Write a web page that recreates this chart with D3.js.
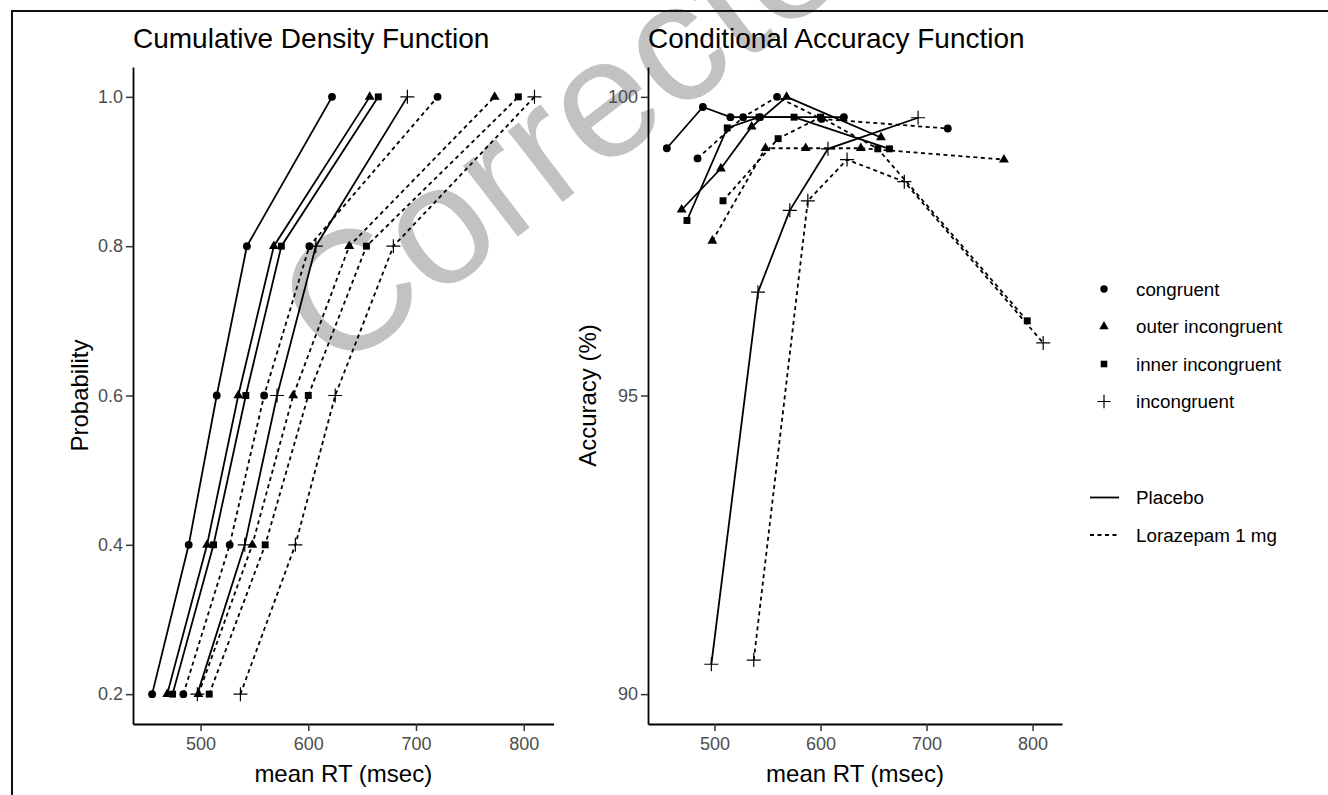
<!DOCTYPE html>
<html>
<head>
<meta charset="utf-8">
<script src="https://cdn.jsdelivr.net/npm/d3@7"></script>
<style>
body { margin: 0; background: #fff; }
svg { font-family: "Liberation Sans", Arial, Helvetica, sans-serif; }
.tick text { fill: #4d4d4d; }
</style>
</head>
<body>
<svg id="chart" width="1328" height="795"></svg>
<script>
// Delta plots for the flanker task: CDF (left) and CAF (right).

var conditions = ["congruent", "outer incongruent", "inner incongruent", "incongruent"];
var drugs = ["Placebo", "Lorazepam 1 mg"];
var probs = [0.2, 0.4, 0.6, 0.8, 1.0];

// mean RT (msec) per quantile, one row per condition
var rtPlacebo = [
	[455, 489, 515, 543, 622],
	[469, 506, 535, 568, 657],
	[474, 512, 542, 575, 665],
	[497, 541, 571, 607, 692]
];
var rtLorazepam = [
	[484, 527, 559, 601, 720],
	[498, 548, 586, 638, 773],
	[508, 560, 600, 654, 795],
	[537, 588, 625, 679, 810]
];

// accuracy (%) per quantile bin
var accPlacebo = [
	[99.14, 99.83, 99.66, 99.66, 99.66],
	[98.11, 98.80, 99.50, 100.0, 99.32],
	[97.93, 99.48, 99.66, 99.66, 99.13],
	[90.50, 96.73, 98.10, 99.13, 99.65]
];
var accLorazepam = [
	[98.97, 99.66, 100.0, 99.63, 99.47],
	[97.59, 99.14, 99.14, 99.14, 98.95],
	[98.26, 99.30, 99.66, 99.13, 96.25],
	[90.57, 98.26, 98.95, 98.58, 95.88]
];

var xTicks = [500, 600, 700, 800];
var cdfTicks = [0.2, 0.4, 0.6, 0.8, 1.0];
var cafTicks = [90, 95, 100];
var cafLimits = [90, 100];

var svg = d3.select("#chart");

// build one long table of series
var series = [];
drugs.forEach(function(drug, j) {
	var rt = j == 0 ? rtPlacebo : rtLorazepam,
		acc = j == 0 ? accPlacebo : accLorazepam;
	conditions.forEach(function(cond, i) {
		series.push({
			cond: i, drug: j,
			values: probs.map(function(p, k) {
				return {p: p, rt: rt[i][k], acc: acc[i][k]};
			})
		});
	});
});

// ggplot-like 5% expansion
function expand(ext) {
	var d = (ext[1] - ext[0]) * 0.05;
	return [ext[0] - d, ext[1] + d];
}
var allRt = rtPlacebo.concat(rtLorazepam).flat();

var plotTop = 67, plotBottom = 724;

// watermark (behind everything)
svg.append("text")
	.attr("transform", "translate(336,376) rotate(-37.5)")
	.style("font-size", "170px")
	.style("fill", "#c2c2c2")
	.text("Corrected");

// frame
svg.append("path")
	.attr("d", "M12,795V11H1328")
	.attr("fill", "none")
	.attr("stroke", "#111")
	.attr("stroke-width", 2);

function shape(g, c, size) {
	if (c == 3) {
		var s = size * 7;
		g.append("path")
			.attr("d", "M" + (-s) + ",0H" + s + "M0," + (-s) + "V" + s)
			.attr("stroke", "#000")
			.attr("stroke-width", 1.2)
			.attr("fill", "none");
	} else {
		var types = [d3.symbolCircle, d3.symbolTriangle, d3.symbolSquare],
			areas = [48, 42, 48];
		g.append("path")
			.attr("d", d3.symbol(types[c], areas[c] * size * size)())
			.attr("fill", "#000");
	}
}

function panel(opts) {
	var x = d3.scaleLinear().domain(expand(d3.extent(allRt))).range([opts.left, opts.right]),
		y = d3.scaleLinear().domain(opts.yDomain).range([plotBottom, plotTop]);

	var g = svg.append("g");

	var line = d3.line()
		.x(function(d) { return x(d.rt); })
		.y(function(d) { return y(d[opts.key]); });

	g.selectAll(".series")
		.data(series)
		.enter().append("path")
			.attr("class", "series")
			.attr("d", function(d) { return line(d.values); })
			.attr("fill", "none")
			.attr("stroke", "#000")
			.attr("stroke-width", 1.8)
			.attr("stroke-dasharray", function(d) { return d.drug == 1 ? "4,3.5" : null; });

	series.forEach(function(s) {
		s.values.forEach(function(v) {
			var pt = g.append("g").attr("transform", "translate(" + x(v.rt) + "," + y(v[opts.key]) + ")");
			shape(pt, s.cond, 1);
		});
	});

	var xa = g.append("g")
		.attr("transform", "translate(0," + plotBottom + ")")
		.call(d3.axisBottom(x).tickValues(xTicks).tickSize(7).tickPadding(4).tickSizeOuter(0));
	var ya = g.append("g")
		.attr("transform", "translate(" + opts.left + ",0)")
		.call(d3.axisLeft(y).tickValues(opts.ticks).tickFormat(opts.fmt).tickSize(7).tickPadding(3).tickSizeOuter(0));

	[xa, ya].forEach(function(a) {
		a.select(".domain").attr("stroke", "#000").attr("stroke-width", 1.8);
		a.selectAll(".tick line").attr("stroke", "#333").attr("stroke-width", 1.5);
		a.selectAll(".tick text").style("font-size", "18px").attr("font-family", null);
	});
	xa.selectAll(".tick text").attr("dy", "0.85em");

	g.append("text")
		.attr("x", opts.left)
		.attr("y", 48)
		.style("font-size", "28px")
		.text(opts.title);

	g.append("text")
		.attr("x", (opts.left + opts.right) / 2)
		.attr("y", 782)
		.style("text-anchor", "middle")
		.style("font-size", "24px")
		.text("mean RT (msec)");

	g.append("text")
		.attr("transform", "translate(" + opts.yLabelX + "," + ((plotTop + plotBottom) / 2) + ") rotate(-90)")
		.style("text-anchor", "middle")
		.style("font-size", "24px")
		.text(opts.yLabel);
}

panel({
	left: 133, right: 553.6, key: "p",
	yDomain: expand([0.2, 1.0]), ticks: cdfTicks, fmt: d3.format(".1f"),
	title: "Cumulative Density Function", yLabel: "Probability", yLabelX: 88
});

panel({
	left: 648, right: 1062, key: "acc",
	yDomain: expand(cafLimits), ticks: cafTicks, fmt: d3.format("d"),
	title: "Conditional Accuracy Function", yLabel: "Accuracy (%)", yLabelX: 596
});

// legends
var legend = svg.append("g");
conditions.forEach(function(c, i) {
	var row = legend.append("g").attr("transform", "translate(0," + (289 + i * 37.5) + ")");
	shape(row.append("g").attr("transform", "translate(1104,0)"), i, 0.95);
	row.append("text")
		.attr("x", 1136)
		.attr("dy", "0.35em")
		.style("font-size", "18.8px")
		.text(c);
});
drugs.forEach(function(d, j) {
	var row = legend.append("g").attr("transform", "translate(0," + (497.5 + j * 37.5) + ")");
	row.append("line")
		.attr("x1", 1090).attr("x2", 1119)
		.attr("stroke", "#000")
		.attr("stroke-width", 1.8)
		.attr("stroke-dasharray", j == 1 ? "4,3.5" : null);
	row.append("text")
		.attr("x", 1136)
		.attr("dy", "0.35em")
		.style("font-size", "18.8px")
		.text(d);
});
</script>
</body>
</html>
